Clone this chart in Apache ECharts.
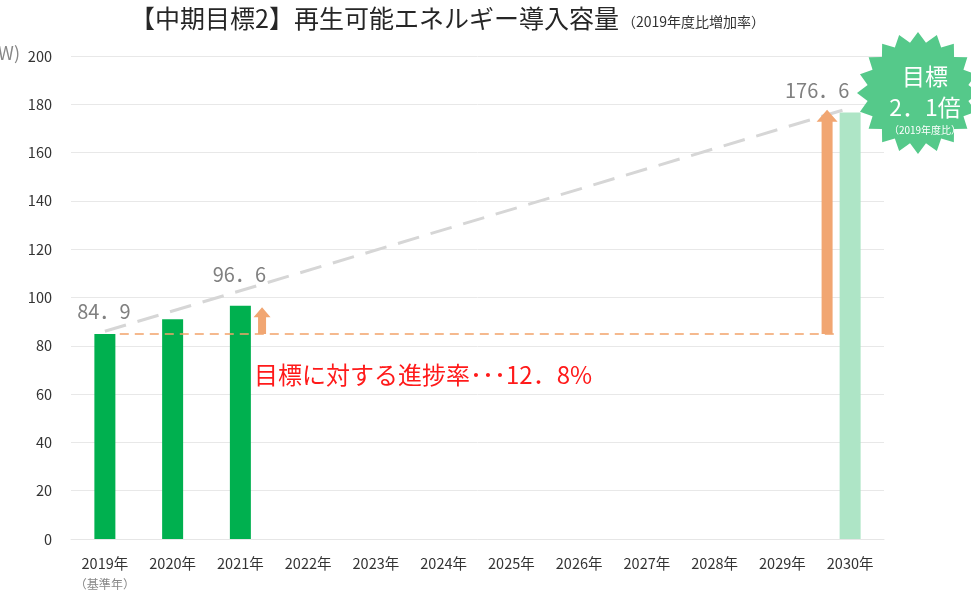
<!DOCTYPE html>
<html lang="ja">
<head>
    <meta charset="UTF-8">
    <title>再生可能エネルギー導入容量</title>
    <script src="https://cdn.jsdelivr.net/npm/echarts@6/dist/echarts.min.js"></script>
    <style>
        body{ margin:0; background:#fff; }
        #main{ width:971px; height:594px; }
    </style>
</head>
<body>
    <div id="main"></div>
    <script>
        // 年度
        var years = ['2019年','2020年','2021年','2022年','2023年','2024年','2025年','2026年','2027年','2028年','2029年','2030年'];
        // 導入容量（万kW） 実績
        var actual = [84.9, 91, 96.6, null, null, null, null, null, null, null, null, null];
        // 2030年 目標
        var target = [null, null, null, null, null, null, null, null, null, null, null, 176.6];
        // 点線（推移イメージ）
        var trend = [86, null, null, null, null, null, null, null, null, null, null, 178.5];
        // 基準線 [x, y]
        var baseLine = [[0.22, 84.9], [10.81, 84.9]];
        // 矢印 [x, 下端, 上端]
        var arrows = [[2.32, 84.9, 96], [10.66, 84.9, 177.7]];
        var yTicks = [0, 200, 20];

        var myChart = echarts.init(document.getElementById('main'));

        var jp = '"Noto Sans CJK JP", "Noto Sans", sans-serif';

        // 星形バッジ
        function starPoints(cx, cy, R, r, n){
            var pts = [];
            for(var i = 0; i < n * 2; i++){
                var a = Math.PI * i / n - Math.PI / 2;
                var rr = (i % 2 === 0) ? R : r;
                pts.push([cx + rr * Math.cos(a), cy + rr * Math.sin(a)]);
            }
            return pts;
        }

        myChart.setOption({
            animation: false,
            grid: { left: 71, right: 87, top: 56, bottom: 54 },
            xAxis: [{
                type: 'category',
                data: years,
                axisLine: { lineStyle: { color: '#e6e6e6' } },
                axisTick: { show: false },
                axisLabel: {
                    interval: 0,
                    color: '#333',
                    fontSize: 14.5,
                    fontFamily: jp,
                    margin: 13,
                    verticalAlign: 'top',
                    lineHeight: 22,
                    formatter: function(v){
                        if(v === '2019年'){ return v + '\n{s|（基準年）}'; }
                        return v;
                    },
                    rich: { s: { fontSize: 12, color: '#888', fontFamily: jp, lineHeight: 20 } }
                }
            }, {
                type: 'value',
                min: -0.5,
                max: 11.5,
                show: false
            }],
            yAxis: {
                type: 'value',
                min: yTicks[0],
                max: yTicks[1],
                interval: yTicks[2],
                axisLine: { show: false },
                axisTick: { show: false },
                axisLabel: { color: '#333', fontSize: 14.5, margin: 19, fontFamily: jp },
                splitLine: { lineStyle: { color: '#e8e8e8' } }
            },
            series: [{
                type: 'bar',
                data: actual.map(function(v, i){
                    var lab = { show: false };
                    if(i === 0){ lab = { show: true, formatter: '84．9', offset: [-1, -8] }; }
                    if(i === 2){ lab = { show: true, formatter: '96．6', offset: [-1, -16] }; }
                    return { value: v, label: lab };
                }),
                barWidth: 21,
                barGap: '-100%',
                itemStyle: { color: '#00b04f' },
                label: { position: 'top', color: '#808080', fontSize: 20, fontFamily: jp },
                z: 2
            }, {
                type: 'bar',
                data: target.map(function(v){
                    return { value: v, label: { show: v != null, formatter: '176．6', offset: [-33, -7] } };
                }),
                barWidth: 21,
                barGap: '-100%',
                itemStyle: { color: '#aee5c6' },
                label: { position: 'top', color: '#808080', fontSize: 20, fontFamily: jp },
                z: 2
            }, {
                type: 'line',
                data: trend,
                connectNulls: true,
                symbol: 'none',
                lineStyle: { color: '#d6d6d6', width: 3, type: [22, 12] },
                z: 3
            }, {
                type: 'line',
                xAxisIndex: 1,
                data: baseLine,
                symbol: 'none',
                lineStyle: { color: '#f2a26a', width: 1.6, type: [9, 6] },
                z: 4
            }, {
                type: 'custom',
                xAxisIndex: 1,
                data: arrows,
                z: 5,
                renderItem: function(params, api){
                    var p0 = api.coord([api.value(0), api.value(1)]);
                    var p1 = api.coord([api.value(0), api.value(2)]);
                    var big = params.dataIndex === 1;
                    var sw = big ? 11 : 8, hw = big ? 21 : 17, hh = big ? 12 : 10;
                    var x = p0[0];
                    return {
                        type: 'polygon',
                        shape: { points: [
                            [x - sw / 2, p0[1]], [x - sw / 2, p1[1] + hh], [x - hw / 2, p1[1] + hh],
                            [x, p1[1]],
                            [x + hw / 2, p1[1] + hh], [x + sw / 2, p1[1] + hh], [x + sw / 2, p0[1]]
                        ] },
                        style: { fill: '#f1a672' }
                    };
                }
            }],
            graphic: [{
                type: 'text',
                left: 130, top: 6,
                style: { text: '【中期目標2】再生可能エネルギー導入容量', fill: '#262626', font: '25px ' + jp }
            }, {
                type: 'text',
                left: 622, top: 15,
                style: { text: '（2019年度比増加率）', fill: '#333', font: '14px ' + jp }
            }, {
                type: 'text',
                right: 951, top: 44,
                style: { text: '（万kW)', fill: '#888', font: '18px ' + jp }
            }, {
                type: 'text',
                left: 254, top: 363,
                style: { text: '目標に対する進捗率･･･12．8%', fill: '#ff1a1a', font: '24px ' + jp }
            }, {
                type: 'polygon',
                shape: { points: starPoints(918, 93, 61, 51, 20) },
                style: { fill: '#55c98a' },
                z: 10
            }, {
                type: 'text',
                x: 925, y: 76,
                style: { text: '目標', fill: '#fff', font: '23px ' + jp, align: 'center', verticalAlign: 'middle' },
                z: 11
            }, {
                type: 'text',
                x: 925, y: 107,
                style: { text: '2．1倍', fill: '#fff', font: '23px ' + jp, align: 'center', verticalAlign: 'middle' },
                z: 11
            }, {
                type: 'text',
                x: 925, y: 130,
                style: { text: '（2019年度比）', fill: '#fff', font: '10px ' + jp, align: 'center', verticalAlign: 'middle' },
                z: 11
            }]
        });
    </script>
</body>
</html>
